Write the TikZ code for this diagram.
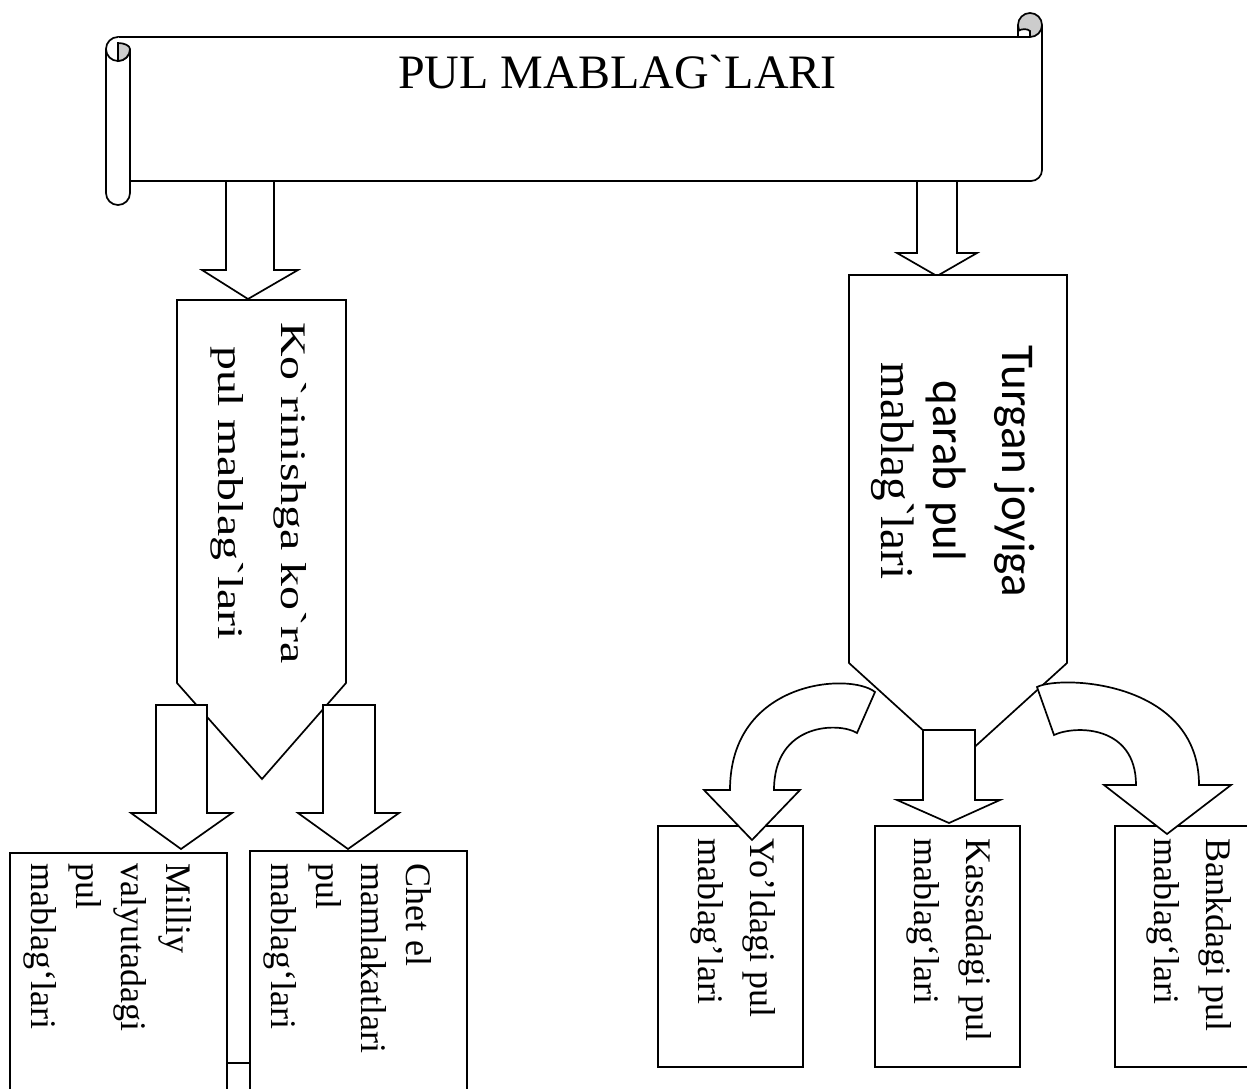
\documentclass[tikz,border=0pt]{standalone}
\usepackage{fontspec}
\setmainfont{Liberation Serif}[Ligatures=TeXOff]
\newfontfamily\calfont{Carlito}[Ligatures=TeXOff]
\usetikzlibrary{calc}
\begin{document}
\begin{tikzpicture}[x=1pt,y=-1pt]
\tikzset{
  outl/.style={draw=black, fill=white, line width=1.7pt, line join=miter},
  plainline/.style={draw=black, line width=1.7pt},
  rollgray/.style={draw=black, fill=gray!40, line width=1.7pt},
  boxnode/.style={draw=black, fill=white, line width=1.7pt, inner sep=0pt, anchor=north west},
  lboxtext/.style={rotate=-90, anchor=north west, inner sep=0pt, align=left, font=\fontsize{36}{45}\selectfont},
  rboxtext/.style={rotate=-90, anchor=north west, inner sep=0pt, align=left, font=\fontsize{36}{52}\selectfont},
  lpenttext/.style={rotate=-90, xscale=1.33, anchor=base, inner sep=0pt, font=\fontsize{36}{36}\selectfont},
  rpenttext/.style={rotate=-90, anchor=base, inner sep=0pt, font=\calfont\fontsize{47}{47}\selectfont},
}
\useasboundingbox (0,0) rectangle (1247,1088);
\clip (0,0) rectangle (1247,1088);

% ---------- scroll ----------
\draw[plainline] (130,181) -- (1031,181) .. controls (1037,181) and (1042,176) .. (1042,170) -- (1042,25);
\draw[plainline] (118,37) -- (1030,37);
% right curl
\filldraw[rollgray] (1030,25) circle[radius=12];
\fill[white] (1018.8,31) .. controls (1022,28.5) and (1027,28.5) .. (1030,31) -- (1030,36.2) -- (1018.8,36.2) -- cycle;
\draw[plainline] (1018,25) -- (1018,37);
\draw[plainline] (1018,31) .. controls (1022,28.5) and (1027,28.5) .. (1030,31) -- (1030,37);
\draw[plainline] (1018,37) -- (1030,37);
% left roll
\draw[outl] (118,37) .. controls (111.37,37) and (106,42.37) .. (106,49) -- (106,193)
  .. controls (106,199.63) and (111.37,205) .. (118,205)
  .. controls (124.63,205) and (130,199.63) .. (130,193) -- (130,49);
\draw[plainline] (106,49) .. controls (106,55.63) and (111.37,61) .. (118,61)
  .. controls (124.63,61) and (130,55.63) .. (130,49);
\filldraw[rollgray] (118,43) -- (118,61) .. controls (124.63,61) and (130,55.63) .. (130,49)
  .. controls (130,45.5) and (124,43) .. (118,43) -- cycle;
\node[anchor=base, inner sep=0pt, font=\fontsize{48}{48}\selectfont] (title) at (617.5,88) {PUL MABLAG`LARI};

% ---------- arrows from scroll ----------
\draw[outl] (226,181) -- (226,270) -- (202,270) -- (248,299) -- (298,270) -- (274,270) -- (274,181) -- cycle;
\draw[outl] (917,181) -- (917,253) -- (897,253) -- (937,276) -- (977,253) -- (957,253) -- (957,181) -- cycle;

% ---------- pentagons ----------
\draw[outl] (177,300) -- (346,300) -- (346,683) -- (262,779) -- (177,683) -- cycle;
\draw[outl] (849,275) -- (1067,275) -- (1067,663) -- (958,762) -- (849,663) -- cycle;

% ---------- arrows below left pentagon ----------
\draw[outl] (156,705) -- (207,705) -- (207,813) -- (232,813) -- (181,849) -- (131,813) -- (156,813) -- cycle;
\draw[outl] (323,705) -- (375,705) -- (375,813) -- (399,813) -- (348,849) -- (298,813) -- (323,813) -- cycle;

% ---------- middle arrow below right pentagon ----------
\draw[outl] (923,730) -- (975,730) -- (975,800) -- (1000,800) -- (949,823) -- (897,800) -- (923,800) -- cycle;

% ---------- boxes ----------
\node[boxnode, minimum width=217pt, minimum height=260pt] (milliy) at (9,852) {};
\node[boxnode, minimum width=217pt, minimum height=260pt] (chet) at (249,850) {};
\coordinate (linky) at (0,1063);
\draw[plainline] (milliy.east |- linky) -- (chet.west |- linky);
\node[boxnode, minimum width=145pt, minimum height=241pt] (yol) at (657,825) {};
\node[boxnode, minimum width=145pt, minimum height=241pt] (kassa) at (874,825) {};
\node[boxnode, minimum width=145pt, minimum height=241pt] (bank) at (1114,825) {};

% ---------- curved arrows ----------
\draw[outl] (875,692) .. controls (850,672) and (730,680) .. (730,790) -- (704,790) -- (752,840)
  -- (800,790) -- (774,790) .. controls (774,722) and (840,722) .. (857,733) -- cycle;
\draw[outl] (1037,687) .. controls (1060,675) and (1199,680) .. (1199,785) -- (1231,785) -- (1167,834)
  -- (1104,785) -- (1136,785) .. controls (1136,725) and (1075,725) .. (1054,735) -- cycle;

% ---------- texts ----------
\node[lpenttext] (lt1) at (281.7,493) {Ko`rinishga ko`ra};
\node[lpenttext] (lt2) at (218,493) {pul mablag`lari};
\node[rpenttext] (rt1) at (1002,471) {Turgan joyiga};
\node[rpenttext] (rt2) at (933.5,471) {qarab pul};
\node[rpenttext, font=\rmfamily\fontsize{47}{47}\selectfont] (rt3) at (881.5,471) {mablag`lari};

\node[lboxtext] (milliyt) at ($(milliy.north east)+(-36,11)$) {Milliy\\valyutadagi\\pul\\mablagʻlari};
\node[lboxtext] (chett) at ($(chet.north east)+(-36,13)$) {Chet el\\mamlakatlari\\pul\\mablagʻlari};
\node[rboxtext] (yolt) at ($(yol.north east)+(-28,13)$) {Yoʼldagi pul\\mablagʼlari};
\node[rboxtext] (kassat) at ($(kassa.north east)+(-29,13)$) {Kassadagi pul\\mablagʻlari};
\node[rboxtext] (bankt) at ($(bank.north east)+(-29,13)$) {Bankdagi pul\\mablagʻlari};
\end{tikzpicture}
\end{document}
